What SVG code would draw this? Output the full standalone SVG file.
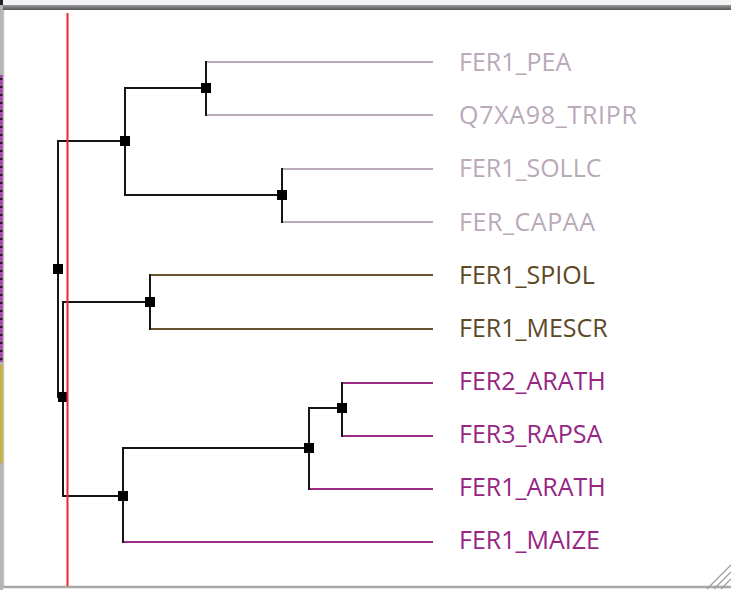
<svg xmlns="http://www.w3.org/2000/svg" width="731" height="590" viewBox="0 0 731 590">
<defs>
<linearGradient id="topbar" x1="0" y1="0" x2="0" y2="1">
<stop offset="0" stop-color="#9a9a9a"/>
<stop offset="1" stop-color="#555555"/>
</linearGradient>
<pattern id="dash" x="0" y="0" width="4" height="8" patternUnits="userSpaceOnUse">
<rect width="4" height="8" fill="#a24aa0"/>
<rect y="6" width="4" height="2" fill="#3a1838"/>
</pattern>
</defs>
<style>
.br{fill:none;stroke:#151515;stroke-width:2;stroke-linecap:square}
.lf{fill:none;stroke-width:2}
.c1{stroke:#b9a9b9}
.c2{stroke:#67532f}
.c3{stroke:#9c2d86}
.t{font-family:"Open Sans","DejaVu Sans",sans-serif;font-size:25px}
.t1{fill:#b9a9b9}
.t2{fill:#5d4925}
.t3{fill:#962583}
.nd{fill:#000}
</style>
<rect width="731" height="590" fill="#ffffff"/>
<!-- window frame -->
<rect x="0" y="0" width="731" height="5" fill="#f1f3f6"/>
<rect x="0" y="5" width="731" height="5" fill="url(#topbar)"/>
<rect x="0" y="0" width="3" height="590" fill="#b4b4b4"/>
<rect x="0" y="75" width="3" height="287" fill="url(#dash)"/>
<rect x="0" y="365" width="3" height="98" fill="#c8b23a"/>
<rect x="0" y="0" width="3" height="5" fill="#222"/>
<line x1="3.5" y1="10" x2="3.5" y2="587" stroke="#c4c4c4" stroke-width="1.5"/>
<line x1="3" y1="587" x2="731" y2="587" stroke="#a8a8a8" stroke-width="2.5"/>
<g stroke="#9a9a9a" stroke-width="1.2">
<line x1="707" y1="589" x2="731" y2="565"/>
<line x1="714" y1="589" x2="731" y2="572"/>
<line x1="721" y1="589" x2="731" y2="579"/>
</g>
<!-- connectors -->
<g id="connectors">
<path class="br" d="M58 141V397M58 141H125M58 397H63"/>
<path class="br" d="M63 302V496M63 302H150M63 496H123"/>
<path class="br" d="M125 88V195M125 88H206M125 195H282"/>
<path class="br" d="M206 62V115"/>
<path class="br" d="M282 169V222"/>
<path class="br" d="M150 275V329"/>
<path class="br" d="M123 448V542M123 448H309"/>
<path class="br" d="M309 408V489M309 408H342"/>
<path class="br" d="M342 383V436"/>
<path class="lf c1" d="M207 62H433M207 115H433M283 169H433M283 222H433"/>
<path class="lf c2" d="M151 275H433M151 329H433"/>
<path class="lf c3" d="M343 383H433M343 436H433M310 489H433M124 542H433"/>
</g>
<!-- internal nodes -->
<g id="node-root"><rect class="nd" x="53" y="264" width="10" height="10"/></g>
<g id="node-h"><rect class="nd" x="58" y="392" width="10" height="10"/></g>
<g id="node-c"><rect class="nd" x="120" y="136" width="10" height="10"/></g>
<g id="node-a"><rect class="nd" x="201" y="83" width="10" height="10"/></g>
<g id="node-b"><rect class="nd" x="277" y="190" width="10" height="10"/></g>
<g id="node-d"><rect class="nd" x="145" y="297" width="10" height="10"/></g>
<g id="node-g"><rect class="nd" x="118" y="491" width="10" height="10"/></g>
<g id="node-f"><rect class="nd" x="304" y="443" width="10" height="10"/></g>
<g id="node-e"><rect class="nd" x="337" y="403" width="10" height="10"/></g>
<!-- leaves -->
<g id="leaf-fer1-pea"><text class="t t1" x="459" y="71">FER1_PEA</text></g>
<g id="leaf-q7xa98-tripr"><text class="t t1" x="459" y="124" textLength="178" lengthAdjust="spacing">Q7XA98_TRIPR</text></g>
<g id="leaf-fer1-sollc"><text class="t t1" x="459" y="177">FER1_SOLLC</text></g>
<g id="leaf-fer-capaa"><text class="t t1" x="459" y="231" textLength="136" lengthAdjust="spacing">FER_CAPAA</text></g>
<g id="leaf-fer1-spiol"><text class="t t2" x="459" y="284">FER1_SPIOL</text></g>
<g id="leaf-fer1-mescr"><text class="t t2" x="459" y="337">FER1_MESCR</text></g>
<g id="leaf-fer2-arath"><text class="t t3" x="459" y="390">FER2_ARATH</text></g>
<g id="leaf-fer3-rapsa"><text class="t t3" x="459" y="443">FER3_RAPSA</text></g>
<g id="leaf-fer1-arath"><text class="t t3" x="459" y="496">FER1_ARATH</text></g>
<g id="leaf-fer1-maize"><text class="t t3" x="459" y="549">FER1_MAIZE</text></g>
<!-- threshold line -->
<line x1="67.5" y1="13" x2="67.5" y2="586" stroke="#f02828" stroke-width="2"/>
</svg>
